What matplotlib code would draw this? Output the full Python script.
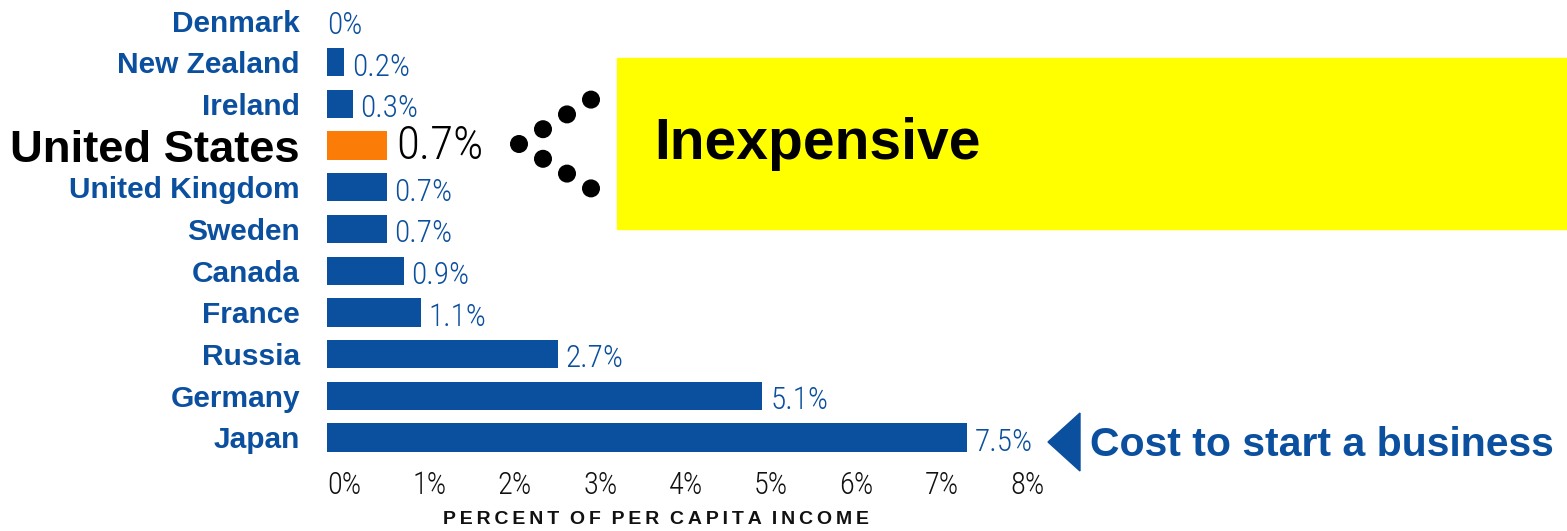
import numpy as np
import matplotlib
matplotlib.use("Agg")
import matplotlib.pyplot as plt
from matplotlib import font_manager as fm
from matplotlib.patches import Rectangle, Polygon, Circle
from matplotlib.transforms import IdentityTransform

# ---- data ----
countries = ["Denmark", "New Zealand", "Ireland", "United States", "United Kingdom",
             "Sweden", "Canada", "France", "Russia", "Germany", "Japan"]
values = [0.0, 0.2, 0.3, 0.7, 0.7, 0.7, 0.9, 1.1, 2.7, 5.1, 7.5]
value_labels = ["0%", "0.2%", "0.3%", "0.7%", "0.7%", "0.7%", "0.9%", "1.1%", "2.7%", "5.1%", "7.5%"]
highlight = "United States"
xticks = [0, 1, 2, 3, 4, 5, 6, 7, 8]
xtick_labels = ["0%", "1%", "2%", "3%", "4%", "5%", "6%", "7%", "8%"]

BLUE = "#0b4f9f"
ORANGE = "#fb7d08"
YELLOW = "#ffff00"
BOLD = ["Liberation Sans", "DejaVu Sans"]

# look for an installed condensed face for the numbers
names = sorted({f.name for f in fm.fontManager.ttflist})
narrow = None
for want in ["Liberation Sans Narrow", "Roboto Condensed", "DejaVu Sans Condensed",
             "Open Sans Condensed", "Noto Sans Condensed"]:
    if want in names:
        narrow = want
        break
if narrow is None:
    cands = [n for n in names if "Narrow" in n or "Condensed" in n]
    narrow = cands[0] if cands else None
NARROW_STRETCH = "normal"
if narrow is None:
    narrow = "DejaVu Sans"
    NARROW_STRETCH = "condensed"
NARROW = [narrow, "DejaVu Sans"]

W, H = 1567, 531
fig = plt.figure(figsize=(W / 100, H / 100), dpi=100)

def px(x, y):
    """pixel (top-left origin) -> figure fraction"""
    return x / W, 1 - y / H

# yellow box + label
fig.patches.append(Rectangle(px(617, 229), (W - 617) / W, 171 / H,
                             transform=fig.transFigure, color=YELLOW, zorder=0))
fig.text(*px(654, 144), "Inexpensive", family=BOLD, weight="bold", fontsize=41,
         color="black", ha="left", va="center")

# chevron of dots (display pixels)
for k in range(-3, 4):
    fig.patches.append(Circle((519 + 24 * abs(k), H - (144 + 14.8 * k)), 8.3,
                              transform=IdentityTransform(), color="black", zorder=2))

# ---- bars ----
ax = fig.add_axes([327 / W, 1 - 458.35 / H, 683 / W, 458.7 / H])
ax.set_facecolor("none")
y = np.arange(len(countries))
colors = [ORANGE if c == highlight else BLUE for c in countries]
ax.barh(y, values, height=0.68, color=colors, zorder=3)
ax.set_xlim(0, 8)
ax.set_ylim(len(countries) - 0.5, -0.5)

for i, (v, lab, c) in enumerate(zip(values, value_labels, countries)):
    if c == highlight:
        ax.annotate(lab, (v, i), xytext=(7, 0), textcoords="offset points",
                    family=NARROW, stretch=NARROW_STRETCH, weight="light", fontsize=34,
                    color="black", ha="left", va="center", annotation_clip=False)
    else:
        off = 5.5 if v > 0 else 0
        ax.annotate(lab, (v, i + 0.32), xytext=(off, 0), textcoords="offset points",
                    family=NARROW, stretch=NARROW_STRETCH, weight="light", fontsize=22.5,
                    color=BLUE, ha="left", va="baseline", annotation_clip=False)

ax.set_yticks(y)
ax.set_yticklabels(countries, family=BOLD, weight="bold", fontsize=21.5, color=BLUE)
for t in ax.get_yticklabels():
    if t.get_text() == highlight:
        t.set_color("black")
        t.set_fontsize(32.7)
ax.set_xticks(xticks)
ax.set_xticklabels(xtick_labels, family=NARROW, stretch=NARROW_STRETCH, weight="light",
                   fontsize=22, color="#111111", ha="left")
ax.tick_params(axis="y", length=0, pad=19.5)
ax.tick_params(axis="x", length=0, pad=9)
for s in ax.spines.values():
    s.set_visible(False)

# axis title, letter spaced
title = "PERCENT OF PER CAPITA INCOME"
spaced = "  ".join("\u2009".join(w) for w in title.split(" "))
fig.text(*px(443, 524), spaced, family=BOLD, weight="bold", fontsize=14,
         color="#111111", ha="left", va="baseline")

# arrow + caption
tri = [px(1048, 442), px(1080, 413), px(1080, 471)]
fig.patches.append(Polygon(tri, closed=True, transform=fig.transFigure,
                           color=BLUE, zorder=2))
fig.text(*px(1090, 456), "Cost to start a business", family=BOLD, weight="bold",
         fontsize=29.5, color=BLUE, ha="left", va="baseline")

fig.savefig("out.png", dpi=100)
